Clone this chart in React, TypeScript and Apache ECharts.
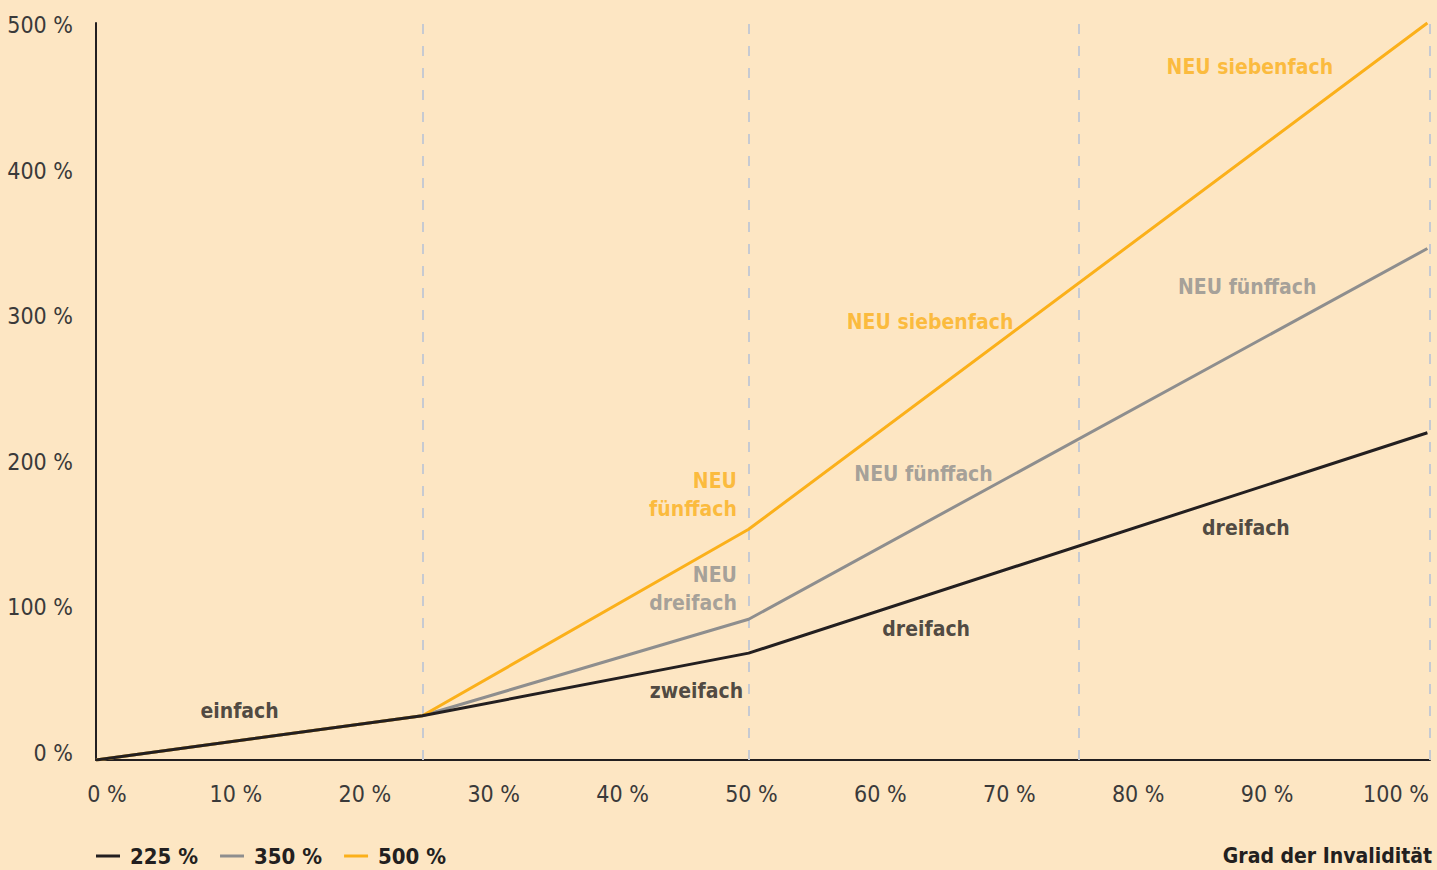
import React, { useEffect, useRef } from "react";
import * as echarts from "echarts";

// Grad der Invalidität (x, in %) at the kinks of the lines
const invalidity = [0, 25, 50, 102];
// Leistung (y, in %) per variant
const values225 = [0, 30, 72.5, 222];
const values350 = [0, 30, 95.5, 347];
const values500 = [0, 30, 156.5, 500];
const seriesNames = ["225 %", "350 %", "500 %"];
// vertical dashed dividers
const dividers = [25, 50, 75.3, 102.2];
// tick labels
const xTicks = [0, 10, 20, 30, 40, 50, 60, 70, 80, 90, 100];
const yTicks = [0, 100, 200, 300, 400, 500];
// in-chart annotations [x, y, text]
const blackNotes: [number, number, string][] = [
  [11, 33.2, "einfach"],
  [46, 46.8, "zweifach"],
  [63.6, 88.9, "dreifach"],
  [88.1, 157.4, "dreifach"],
];
const greyNotes: [number, number, string][] = [
  [63.4, 194, "NEU fünffach"],
  [88.2, 320.9, "NEU fünffach"],
];
const greyStackedNotes: [number, number, string][] = [[49.1, 116, "NEU\ndreifach"]];
const orangeNotes: [number, number, string][] = [
  [63.9, 297, "NEU siebenfach"],
  [88.4, 470, "NEU siebenfach"],
];
const orangeStackedNotes: [number, number, string][] = [[49.1, 180, "NEU\nfünffach"]];

const BLACK = "#231F20";
const GREY = "#8E8E8E";
const ORANGE = "#FBB01A";
const BG = "#FDE6C3";
const FONT = "'DejaVu Sans Condensed', 'Liberation Sans', sans-serif";

const pairs = (ys: number[]) => invalidity.map((x, i) => [x, ys[i]]);

function noteSeries(data: [number, number, string][], color: string, stacked: boolean) {
  return {
    type: "scatter",
    xAxisIndex: 0,
    yAxisIndex: 0,
    symbolSize: 0,
    silent: true,
    data,
    z: 5,
    label: {
      show: true,
      position: stacked ? "left" : "inside",
      distance: 0,
      formatter: (p: any) => p.data[2],
      color,
      fontFamily: FONT,
      fontWeight: "bold",
      fontSize: 21,
      lineHeight: 28,
      align: stacked ? "right" : "center",
    },
  };
}

export default function App() {
  const ref = useRef<HTMLDivElement>(null);
  useEffect(() => {
    if (!ref.current) return;
    const chart = echarts.init(ref.current, undefined, { renderer: "svg" });
    chart.setOption({
      animation: false,
      backgroundColor: BG,
      textStyle: { fontFamily: FONT },
      grid: { left: 96, right: 7, top: 23, bottom: 110, containLabel: false, outerBoundsMode: "none" },
      title: {
        text: "Grad der Invalidität",
        right: 5,
        top: 845,
        padding: 0,
        textStyle: { fontFamily: FONT, fontSize: 21, fontWeight: "bold", color: BLACK },
      },
      legend: {
        data: seriesNames,
        left: 96,
        top: 845,
        padding: 0,
        itemWidth: 24,
        itemHeight: 3,
        itemGap: 22,
        icon: "rect",
        textStyle: { fontFamily: FONT, fontSize: 22, fontWeight: "bold", color: BLACK, padding: [0, 0, 0, 5] },
      },
      xAxis: [
        {
          type: "value",
          min: 0,
          max: 102.2,
          position: "bottom",
          axisLine: { show: true, lineStyle: { color: BLACK, width: 2 } },
          axisTick: { show: false },
          axisLabel: { show: false },
          splitLine: { show: false },
        },
        {
          type: "value",
          min: -0.853,
          max: 102.64,
          position: "bottom",
          axisLine: { show: false },
          axisTick: { show: false },
          splitLine: { show: false },
          axisLabel: {
            show: true,
            customValues: xTicks,
            formatter: (v: number) => `${v} %`,
            fontFamily: FONT,
            fontSize: 23,
            color: "#3A3A3A",
            margin: 22,
          },
        },
      ],
      yAxis: [
        {
          type: "value",
          min: 0,
          max: 500,
          position: "left",
          axisLine: { show: true, lineStyle: { color: BLACK, width: 2 } },
          axisTick: { show: false },
          axisLabel: { show: false },
          splitLine: { show: false },
        },
        {
          type: "value",
          min: -5,
          max: 501.4,
          position: "left",
          axisLine: { show: false },
          axisTick: { show: false },
          splitLine: { show: false },
          axisLabel: {
            show: true,
            customValues: yTicks,
            formatter: (v: number) => `${v} %`,
            fontFamily: FONT,
            fontSize: 23,
            color: "#3A3A3A",
            margin: 23,
          },
        },
      ],
      series: [
        {
          name: seriesNames[0],
          type: "line",
          data: pairs(values225),
          symbol: "none",
          color: BLACK,
          lineStyle: { color: BLACK, width: 3 },
          z: 4,
          markLine: {
            silent: true,
            symbol: "none",
            label: { show: false },
            lineStyle: { color: "#C6CAD2", width: 2, type: [10, 12] },
            data: dividers.map((d) => ({ xAxis: d })),
            z: 1,
          },
        },
        {
          name: seriesNames[1],
          type: "line",
          data: pairs(values350),
          symbol: "none",
          color: GREY,
          lineStyle: { color: GREY, width: 3 },
          z: 3,
        },
        {
          name: seriesNames[2],
          type: "line",
          data: pairs(values500),
          symbol: "none",
          color: ORANGE,
          lineStyle: { color: ORANGE, width: 3 },
          z: 3,
        },
        noteSeries(blackNotes, BLACK, false),
        noteSeries(greyNotes, GREY, false),
        noteSeries(greyStackedNotes, GREY, true),
        noteSeries(orangeNotes, ORANGE, false),
        noteSeries(orangeStackedNotes, ORANGE, true),
      ],
    });
    return () => chart.dispose();
  }, []);
  return (
    <div
      ref={ref}
      style={{ position: "fixed", left: 0, top: 0, width: 1437, height: 870 }}
    />
  );
}
